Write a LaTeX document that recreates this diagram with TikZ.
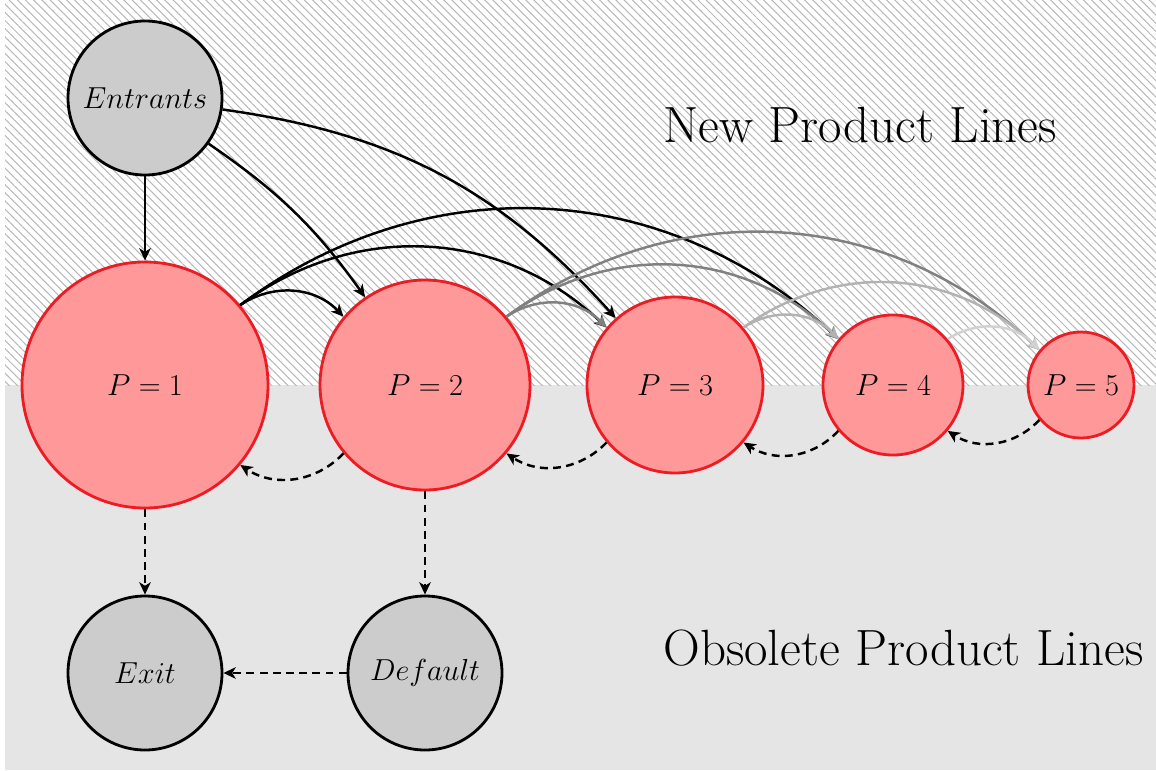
\documentclass[tikz,border=0pt]{standalone}
\usepackage{amsmath,amssymb}
\usepackage{tikz,ifthen}
\usetikzlibrary{patterns.meta,arrows.meta}
\definecolor{prodred}{RGB}{237,28,36}
\definecolor{prodfill}{RGB}{255,153,153}
\tikzset{
  state/.style={circle,draw=black,fill=black!20,line width=1.6pt,minimum size=3.08cm,inner sep=0pt,font=\LARGE},
  prod/.style={circle,draw=prodred,fill=prodfill,line width=1.6pt,inner sep=0pt,font=\LARGE},
  flow/.style={-{Stealth[length=7pt,width=6.5pt,inset=2pt]},line width=1.4pt},
  drop/.style={flow,dash pattern=on 4.5pt off 3pt},
  zone/.style={anchor=base west,inner sep=0pt,font=\fontsize{29}{34}\selectfont}
}
\begin{document}
\begin{tikzpicture}
\useasboundingbox (0,0) rectangle (23.12,15.4);
\fill[black!10] (0.1,0) rectangle (23.12,7.7);
\fill[pattern={Lines[angle=-45,distance=3.3pt,line width=0.6pt]},pattern color=black!28] (0.1,7.7) rectangle (23.12,15.4);
\node[zone] (newlbl) at (13.26,12.56) {New Product Lines};
\node[zone] (oldlbl) at (13.26,2.1) {Obsolete Product Lines};
\node[state] (entrants) at (2.9,13.44) {$Entrants$};
\foreach \i/\x/\d in {1/2.9/4.92,2/8.5/4.2,3/13.5/3.52,4/17.86/2.8,5/21.62/2.12}
    \node[prod,minimum size=\d cm] (p\i) at (\x,7.7) {$P=\i$};
\node[state] (exit) at (2.9,1.94) {$Exit$};
\node[state] (default) at (8.5,1.94) {$Default$};
\draw[flow] (entrants) -- (p1);
\draw[flow] (entrants) to[bend left=10] (p2);
\draw[flow] (entrants) to[bend left=20] (p3);
\foreach \i/\c in {1/black,2/black!50,3/black!30,4/black!18}
    \foreach \k in {1,2,3}
    {
        \pgfmathtruncatemacro{\j}{\i+\k}
        \ifthenelse{\j<6}
        {\draw[flow,\c] (p\i) to[bend left=40] (p\j);}
        {};
    }
\foreach \i/\j in {2/1,3/2,4/3,5/4}
    \draw[drop] (p\i) to[bend left=40] (p\j);
\draw[drop] (p1) -- (exit);
\draw[drop] (p2) -- (default);
\draw[drop] (default) -- (exit);
\end{tikzpicture}
\end{document}
